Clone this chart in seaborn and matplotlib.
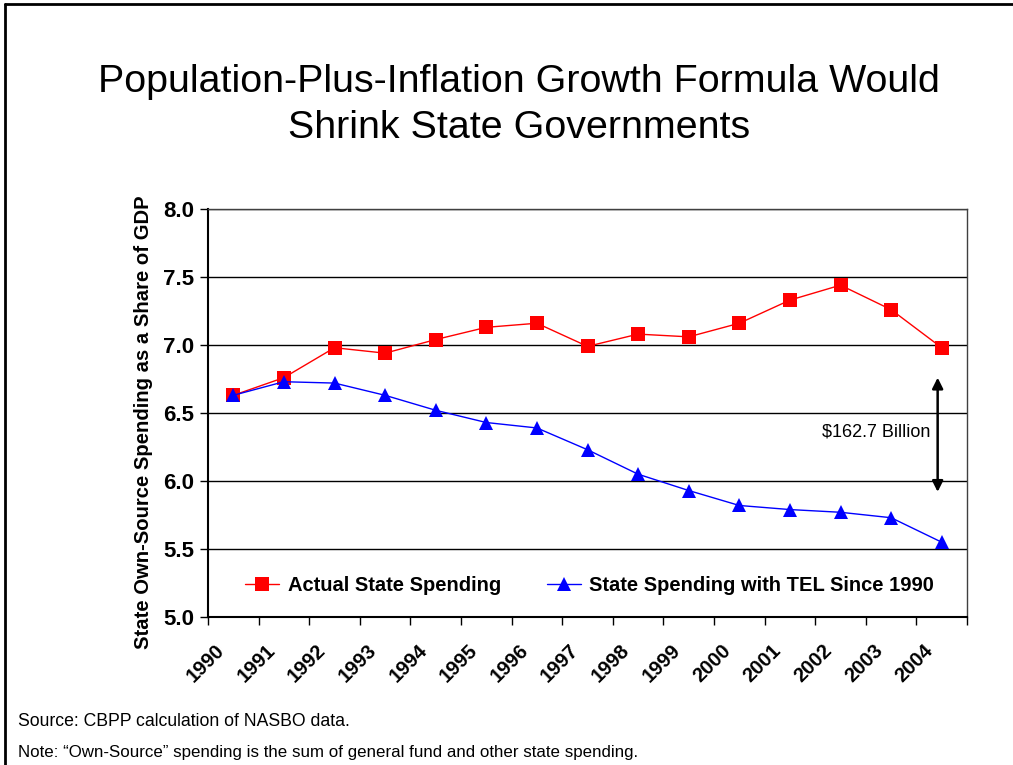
import matplotlib
matplotlib.use('Agg')
import matplotlib.pyplot as plt
import matplotlib.ticker as ticker
import seaborn as sns
import pandas as pd

anos = ['1990', '1991', '1992', '1993', '1994', '1995', '1996', '1997',
        '1998', '1999', '2000', '2001', '2002', '2003', '2004']
gasto_real = [6.63, 6.76, 6.98, 6.94, 7.04, 7.13, 7.16, 6.99,
              7.08, 7.06, 7.16, 7.33, 7.44, 7.26, 6.98]
gasto_tel = [6.63, 6.73, 6.72, 6.63, 6.52, 6.43, 6.39, 6.23,
             6.05, 5.93, 5.82, 5.79, 5.77, 5.73, 5.55]
series = ['Actual State Spending', 'State Spending with TEL Since 1990']

sns.set_style('white')
plt.rcParams['font.family'] = ['Liberation Sans', 'DejaVu Sans']
plt.rcParams['text.color'] = 'black'
plt.rcParams['axes.labelcolor'] = 'black'
plt.rcParams['xtick.color'] = 'black'
plt.rcParams['ytick.color'] = 'black'

df = pd.DataFrame({
    'pos': list(range(len(anos))) * 2,
    'valor': gasto_real + gasto_tel,
    'serie': [series[0]] * len(anos) + [series[1]] * len(anos),
})

fig = plt.figure(figsize=(10.13, 7.65), dpi=100)
ax = fig.add_axes([208 / 1013, 1 - 617 / 765, 759 / 1013, 408 / 765])

ax = sns.lineplot(data=df, x='pos', y='valor', hue='serie', style='serie',
                  palette={series[0]: '#ff0000', series[1]: '#0000ff'},
                  markers={series[0]: 's', series[1]: '^'},
                  dashes=False, linewidth=1, markersize=10,
                  markeredgewidth=0, ax=ax)

ax.set_xlim(-0.5, len(anos) - 0.5)
ax.set_ylim(5.0, 8.0)
ax.yaxis.set_major_locator(ticker.MultipleLocator(0.5))
ax.yaxis.set_major_formatter(ticker.FormatStrFormatter('%.1f'))
ax.grid(axis='y', color='black', linewidth=1)
ax.set_axisbelow(True)

# rotulos dos anos um pouco a esquerda do centro da categoria (estilo Excel)
ax.set_xticks([i - 0.36 for i in range(len(anos))])
ax.set_xticklabels(anos, rotation=45, ha='right', rotation_mode='anchor',
                   fontsize=14.5, fontweight='bold')
ax.xaxis.set_minor_locator(ticker.FixedLocator([i - 0.5 for i in range(len(anos) + 1)]))
ax.tick_params(axis='x', which='major', length=0, pad=17)
ax.tick_params(axis='x', which='minor', length=6, width=1, direction='out', bottom=True)
ax.tick_params(axis='y', length=6, width=1, direction='out', left=True,
               labelsize=16, pad=4)
for lbl in ax.get_yticklabels():
    lbl.set_fontweight('bold')

for s in ['left', 'bottom']:
    ax.spines[s].set_color('black')
    ax.spines[s].set_linewidth(1.5)
for s in ['top', 'right']:
    ax.spines[s].set_color('#404040')
    ax.spines[s].set_linewidth(1)

ax.set_xlabel('')
ax.set_ylabel('State Own-Source Spending as a Share of GDP', fontsize=14.6,
              fontweight='bold')
ax.yaxis.set_label_coords(-0.072, 0.478)

leg = ax.legend(loc='center', bbox_to_anchor=(0.503, 0.076), ncol=2, frameon=False,
                prop={'size': 14.5, 'weight': 'bold'}, handlelength=1.7,
                columnspacing=2.3, handletextpad=0.4)

# seta da diferenca em 2004
ax.annotate('', xy=(13.92, 5.92), xytext=(13.92, 6.76),
            arrowprops=dict(arrowstyle='<|-|>', color='black', lw=1.8,
                            mutation_scale=16, shrinkA=0, shrinkB=0))
ax.text(13.78, 6.36, '$162.7 Billion', ha='right', va='center', fontsize=13)

fig.text(0.512, 1 - 105 / 765, 'Population-Plus-Inflation Growth Formula Would\nShrink State Governments',
         ha='center', va='center', fontsize=28.4, linespacing=1.36)
fig.text(18 / 1013, 1 - 721 / 765, 'Source: CBPP calculation of NASBO data.',
         ha='left', va='center', fontsize=12.7)
fig.text(18 / 1013, 1 - 752 / 765,
         'Note: \u201cOwn-Source\u201d spending is the sum of general fund and other state spending.',
         ha='left', va='center', fontsize=12.2)

# moldura do slide
fig.add_artist(plt.Line2D([5 / 1013, 1], [1 - 4 / 765, 1 - 4 / 765],
                          transform=fig.transFigure, color='black', lw=2))
fig.add_artist(plt.Line2D([5 / 1013, 5 / 1013], [0, 1 - 4 / 765],
                          transform=fig.transFigure, color='black', lw=2))

fig.savefig('out.png', dpi=100)
